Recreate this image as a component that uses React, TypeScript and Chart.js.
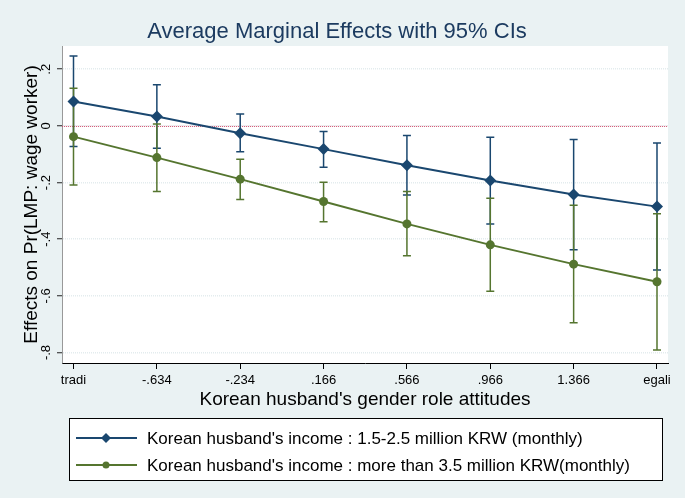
import React, { useEffect, useRef } from "react";
import { Chart, registerables } from "chart.js";

Chart.register(...registerables);

const chartTitle = "Average Marginal Effects with 95% CIs";
const xTitle = "Korean husband's gender role attitudes";
const yTitle = "Effects on Pr(LMP: wage worker)";

const xLabels = ["tradi", "-.634", "-.234", ".166", ".566", ".966", "1.366", "egali"];
const yTickValues = [-0.8, -0.6, -0.4, -0.2, 0, 0.2];
const yTickLabels = ["-.8", "-.6", "-.4", "-.2", "0", ".2"];

const lowLabel = "Korean husband's income : 1.5-2.5 million KRW (monthly)";
const lowMean = [0.086, 0.033, -0.026, -0.082, -0.139, -0.193, -0.242, -0.285];
const lowUpper = [0.247, 0.145, 0.042, -0.02, -0.034, -0.04, -0.048, -0.06];
const lowLower = [-0.073, -0.079, -0.091, -0.146, -0.244, -0.346, -0.437, -0.509];

const highLabel = "Korean husband's income : more than 3.5 million KRW(monthly)";
const highMean = [-0.038, -0.112, -0.188, -0.267, -0.346, -0.42, -0.488, -0.55];
const highUpper = [0.133, 0.007, -0.118, -0.199, -0.232, -0.255, -0.28, -0.31];
const highLower = [-0.209, -0.232, -0.26, -0.338, -0.458, -0.584, -0.695, -0.791];

const NAVY = "#1a476f";
const GREEN = "#55752f";
const BG = "#eaf2f3";
const FONT = '"Liberation Sans", Arial, sans-serif';

const ciSets = [
  { lower: lowLower, upper: lowUpper, color: NAVY },
  { lower: highLower, upper: highUpper, color: GREEN },
];

export default function App() {
  const ref = useRef<HTMLCanvasElement | null>(null);

  useEffect(() => {
    if (!ref.current) return;

    const decoPlugin = {
      id: "deco",
      beforeDraw(chart: any) {
        const { ctx, chartArea } = chart;
        ctx.save();
        ctx.fillStyle = BG;
        ctx.fillRect(0, 0, chart.width, chart.height);
        ctx.fillStyle = "#ffffff";
        ctx.fillRect(chartArea.left, chartArea.top, chartArea.right - chartArea.left, chartArea.bottom - chartArea.top);
        ctx.restore();
      },
      beforeDatasetsDraw(chart: any) {
        const { ctx, chartArea } = chart;
        const xs = chart.scales.x;
        const ys = chart.scales.y;
        ctx.save();
        // zero reference line
        const y0 = ys.getPixelForValue(0);
        ctx.strokeStyle = "#d2496a";
        ctx.lineWidth = 1;
        ctx.setLineDash([1, 1]);
        ctx.beginPath();
        ctx.moveTo(chartArea.left, y0 + 0.5);
        ctx.lineTo(chartArea.right, y0 + 0.5);
        ctx.stroke();
        ctx.setLineDash([]);
        // error bars
        ciSets.forEach((s) => {
          ctx.strokeStyle = s.color;
          ctx.lineWidth = 1.5;
          s.lower.forEach((lo, i) => {
            const x = xs.getPixelForValue(i);
            const yl = ys.getPixelForValue(lo);
            const yu = ys.getPixelForValue(s.upper[i]);
            ctx.beginPath();
            ctx.moveTo(x, yl);
            ctx.lineTo(x, yu);
            ctx.moveTo(x - 4, yl);
            ctx.lineTo(x + 4, yl);
            ctx.moveTo(x - 4, yu);
            ctx.lineTo(x + 4, yu);
            ctx.stroke();
          });
        });
        ctx.restore();
      },
      afterDraw(chart: any) {
        const { ctx, chartArea } = chart;
        const ys = chart.scales.y;
        ctx.save();
        // title
        ctx.fillStyle = "#1c3b60";
        ctx.font = `22px ${FONT}`;
        ctx.textAlign = "center";
        ctx.textBaseline = "alphabetic";
        ctx.fillText(chartTitle, 337, 38);
        // x title
        ctx.fillStyle = "#000";
        ctx.font = `19px ${FONT}`;
        ctx.fillText(xTitle, (chartArea.left + chartArea.right) / 2, 405);
        // y title
        ctx.save();
        ctx.translate(37, (chartArea.top + chartArea.bottom) / 2);
        ctx.rotate(-Math.PI / 2);
        ctx.fillText(yTitle, 0, 0);
        ctx.restore();
        // y tick labels
        ctx.font = `13px ${FONT}`;
        yTickValues.forEach((v, i) => {
          const y = ys.getPixelForValue(v);
          ctx.save();
          ctx.translate(50, y);
          ctx.rotate(-Math.PI / 2);
          ctx.fillText(yTickLabels[i], 0, 0);
          ctx.restore();
        });
        // legend
        const lx = 69.5, ly = 418.5, lw = 593, lh = 62;
        ctx.fillStyle = "#fff";
        ctx.fillRect(lx, ly, lw, lh);
        ctx.strokeStyle = "#000";
        ctx.lineWidth = 1;
        ctx.strokeRect(lx, ly, lw, lh);
        const items = [
          { label: lowLabel, color: NAVY, shape: "diamond", y: 438 },
          { label: highLabel, color: GREEN, shape: "circle", y: 465 },
        ];
        items.forEach((it) => {
          ctx.strokeStyle = it.color;
          ctx.lineWidth = 2;
          ctx.beginPath();
          ctx.moveTo(76, it.y);
          ctx.lineTo(137, it.y);
          ctx.stroke();
          ctx.fillStyle = it.color;
          ctx.beginPath();
          if (it.shape === "diamond") {
            ctx.moveTo(106, it.y - 5);
            ctx.lineTo(111, it.y);
            ctx.lineTo(106, it.y + 5);
            ctx.lineTo(101, it.y);
            ctx.closePath();
          } else {
            ctx.arc(106, it.y, 3.5, 0, Math.PI * 2);
          }
          ctx.fill();
          ctx.fillStyle = "#000";
          ctx.font = `17px ${FONT}`;
          ctx.textAlign = "left";
          ctx.textBaseline = "middle";
          ctx.fillText(it.label, 147, it.y + 1);
        });
        ctx.restore();
      },
    };

    const chart = new Chart(ref.current, {
      type: "line",
      data: {
        datasets: [
          {
            label: lowLabel,
            data: lowMean.map((v, i) => ({ x: i, y: v })),
            borderColor: NAVY,
            backgroundColor: NAVY,
            borderWidth: 2,
            pointStyle: "rectRot",
            pointRadius: 6,
            pointBorderWidth: 0,
          },
          {
            label: highLabel,
            data: highMean.map((v, i) => ({ x: i, y: v })),
            borderColor: GREEN,
            backgroundColor: GREEN,
            borderWidth: 2,
            pointStyle: "circle",
            pointRadius: 4.5,
            pointBorderWidth: 0,
          },
        ],
      },
      options: {
        responsive: false,
        animation: false,
        devicePixelRatio: 1,
        layout: { padding: { left: 0, top: 46, right: 17, bottom: 80 } },
        plugins: {
          legend: { display: false },
          title: { display: false },
          tooltip: { enabled: false },
        },
        scales: {
          x: {
            type: "linear",
            min: -0.138,
            max: 7.132,
            afterBuildTicks: (scale: any) => {
              scale.ticks = xLabels.map((_, i) => ({ value: i }));
            },
            afterFit: (scale: any) => {
              scale.height = 498 - 80 - 363;
            },
            ticks: {
              autoSkip: false,
              maxRotation: 0,
              minRotation: 0,
              padding: 4,
              color: "#000",
              font: { family: FONT, size: 13 },
              callback: (v: any) => xLabels[Math.round(v)] ?? "",
            },
            grid: {
              display: true,
              drawOnChartArea: false,
              drawTicks: true,
              tickLength: 6,
              tickColor: "#000",
              tickWidth: 1,
            },
            border: { display: true, color: "#000", width: 1 },
          },
          y: {
            type: "linear",
            min: -0.837,
            max: 0.282,
            afterBuildTicks: (scale: any) => {
              scale.ticks = yTickValues.map((v) => ({ value: v }));
            },
            afterFit: (scale: any) => {
              scale.width = 62;
            },
            ticks: { display: false },
            grid: {
              display: true,
              drawOnChartArea: true,
              drawTicks: true,
              tickLength: 5,
              color: "#e3ecee",
              lineWidth: 1.5,
              tickColor: "#222",
              tickWidth: 1,
            },
            border: { display: true, color: "#999", width: 1, dash: [1, 1] },
          },
        },
      },
      plugins: [decoPlugin],
    } as any);

    return () => chart.destroy();
  }, []);

  return (
    <div style={{ position: "absolute", left: 0, top: 0, width: 685, height: 498 }}>
      <canvas ref={ref} width={685} height={498} style={{ display: "block" }} />
    </div>
  );
}
